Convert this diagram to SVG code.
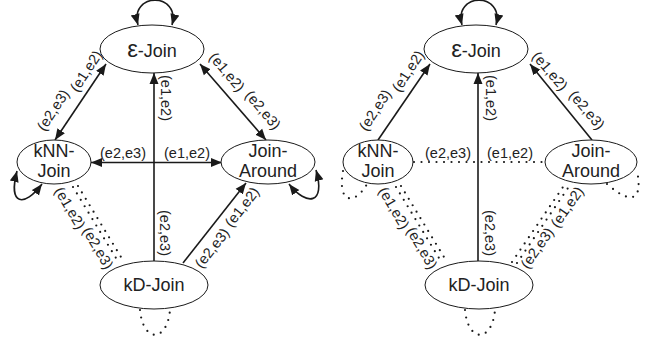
<svg xmlns="http://www.w3.org/2000/svg" width="645" height="339" viewBox="0 0 645 339">
<defs>
<marker id="ah" markerUnits="userSpaceOnUse" markerWidth="12" markerHeight="10" refX="11" refY="5" orient="auto-start-reverse" viewBox="0 0 12 10">
<path d="M0,0.5 L11,5 L0,9.5 z" fill="#1a1a1a"/>
</marker>
</defs>
<style>
.nd{fill:#fff;stroke:#1a1a1a;stroke-width:1}
.nt{font-family:"Liberation Sans",Arial,sans-serif;font-size:18px;fill:#222;text-anchor:middle}
.el{font-family:"Liberation Sans",Arial,sans-serif;font-size:14.5px;fill:#222;text-anchor:middle}
.s{fill:none;stroke:#1a1a1a;stroke-width:1.6}
.a2{marker-start:url(#ah);marker-end:url(#ah)}
.a1{marker-end:url(#ah)}
.d{fill:none;stroke:#1a1a1a;stroke-width:2.2;stroke-linecap:round;stroke-dasharray:0 7.5}
</style>

<g id="connectors">
<!-- left diagram -->
<path class="s a2" d="M138,25 C129,-8 181,-8 172,25"/>
<line class="s a2" x1="106" y1="64" x2="55" y2="140"/>
<line class="s a2" x1="200" y1="64" x2="266" y2="140"/>
<line class="s a1" x1="154" y1="261" x2="154" y2="73"/>
<line class="s a2" x1="91" y1="162.5" x2="222" y2="162.5"/>
<line class="s a1" x1="183" y1="263" x2="246" y2="183"/>
<path class="s a2" d="M17,171 C8,205 24,208 42,184"/>
<path class="s a2" d="M316,170 C326,204 307,207 289,184"/>
<line class="d" x1="73" y1="187" x2="119" y2="263"/>
<line class="d" x1="78" y1="186" x2="124" y2="262"/>
<path class="d" d="M140,310 C143,343 167,343 170,310"/>
<!-- right diagram -->
<path class="s a2" d="M462,25 C453,-8 505,-8 496,25"/>
<line class="s a1" x1="378" y1="140" x2="430" y2="64"/>
<line class="s a1" x1="592" y1="140" x2="530" y2="64"/>
<line class="s a1" x1="478" y1="261" x2="478" y2="73"/>
<line class="d" x1="414" y1="162" x2="545" y2="162"/>
<line class="d" x1="396" y1="187" x2="442" y2="263"/>
<line class="d" x1="401" y1="186" x2="447" y2="262"/>
<line class="d" x1="512" y1="262" x2="563" y2="187"/>
<line class="d" x1="517" y1="263" x2="568" y2="188"/>
<path class="d" d="M343,171 C337,206 356,204 367,184"/>
<path class="d" d="M607,184 C632,206 643,200 637,171"/>
<path class="d" d="M465,310 C468,343 492,343 495,310"/>
</g>

<g id="edge-labels">
<!-- left -->
<text class="el" transform="translate(86,71) rotate(-56.5)" y="5">(e1,e2)</text>
<text class="el" transform="translate(53,110) rotate(-56.5)" y="5">(e2,e3)</text>
<text class="el" transform="translate(227,72) rotate(49.5)" y="5">(e1,e2)</text>
<text class="el" transform="translate(263,110) rotate(49.5)" y="5">(e2,e3)</text>
<text class="el" transform="translate(166,98) rotate(90)" y="5">(e1,e2)</text>
<text class="el" transform="translate(165,233) rotate(90)" y="5">(e2,e3)</text>
<text class="el" x="123" y="158">(e2,e3)</text>
<text class="el" x="187" y="158">(e1,e2)</text>
<text class="el" transform="translate(70,208) rotate(59.5)" y="5">(e1,e2)</text>
<text class="el" transform="translate(98,248) rotate(59.5)" y="5">(e2,e3)</text>
<text class="el" transform="translate(242,207) rotate(-52)" y="5">(e1,e2)</text>
<text class="el" transform="translate(212,248) rotate(-52)" y="5">(e2,e3)</text>
<!-- right -->
<text class="el" transform="translate(408,71) rotate(-56.5)" y="5">(e1,e2)</text>
<text class="el" transform="translate(375,110) rotate(-56.5)" y="5">(e2,e3)</text>
<text class="el" transform="translate(550,71) rotate(49.5)" y="5">(e1,e2)</text>
<text class="el" transform="translate(587,110) rotate(49.5)" y="5">(e2,e3)</text>
<text class="el" transform="translate(491,98) rotate(90)" y="5">(e1,e2)</text>
<text class="el" transform="translate(490,233) rotate(90)" y="5">(e2,e3)</text>
<text class="el" x="448" y="158">(e2,e3)</text>
<text class="el" x="510" y="158">(e1,e2)</text>
<text class="el" transform="translate(394,208) rotate(59.5)" y="5">(e1,e2)</text>
<text class="el" transform="translate(422,248) rotate(59.5)" y="5">(e2,e3)</text>
<text class="el" transform="translate(567,207) rotate(-55)" y="5">(e1,e2)</text>
<text class="el" transform="translate(537,248) rotate(-55)" y="5">(e2,e3)</text>
</g>

<g id="L-eps-join"><ellipse class="nd" cx="152" cy="49" rx="52" ry="24"/><text class="nt" x="152" y="57"><tspan font-size="24">ε</tspan>-Join</text></g>
<g id="L-knn-join"><ellipse class="nd" cx="54" cy="162" rx="37" ry="22"/><text class="nt" x="54" y="157">kNN-</text><text class="nt" x="54" y="177">Join</text></g>
<g id="L-join-around"><ellipse class="nd" cx="268" cy="162" rx="47" ry="22"/><text class="nt" x="268" y="157">Join-</text><text class="nt" x="268" y="177">Around</text></g>
<g id="L-kd-join"><ellipse class="nd" cx="154" cy="285" rx="54" ry="24"/><text class="nt" x="154" y="291">kD-Join</text></g>

<g id="R-eps-join"><ellipse class="nd" cx="476" cy="49" rx="52" ry="24"/><text class="nt" x="476" y="57"><tspan font-size="24">ε</tspan>-Join</text></g>
<g id="R-knn-join"><ellipse class="nd" cx="378" cy="162" rx="35" ry="22"/><text class="nt" x="378" y="157">kNN-</text><text class="nt" x="378" y="177">Join</text></g>
<g id="R-join-around"><ellipse class="nd" cx="591" cy="162" rx="46" ry="22"/><text class="nt" x="591" y="157">Join-</text><text class="nt" x="591" y="177">Around</text></g>
<g id="R-kd-join"><ellipse class="nd" cx="479" cy="285" rx="54" ry="24"/><text class="nt" x="479" y="291">kD-Join</text></g>
</svg>
